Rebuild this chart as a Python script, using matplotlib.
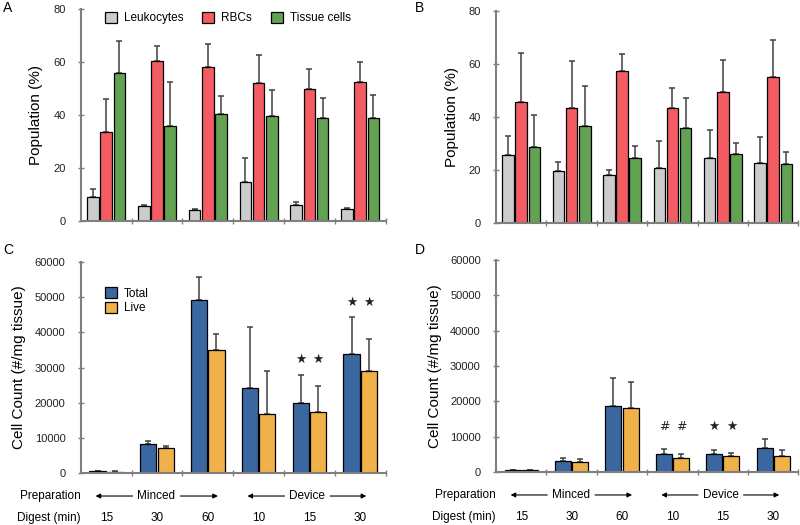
import numpy as np
import matplotlib
matplotlib.use('Agg')
import matplotlib.pyplot as plt
from matplotlib.patches import Patch

plt.rcParams['font.family'] = ['Liberation Sans', 'DejaVu Sans']

# population data (%), panels A and B
pop_labels = ['Leukocytes', 'RBCs', 'Tissue cells']
a_leuk = [9.2, 5.5, 4.2, 14.7, 6.2, 4.5]
a_leuk_err = [2.9, 0.7, 0.5, 8.9, 1.0, 0.3]
a_rbc = [33.5, 60.4, 58.2, 52.1, 49.7, 52.5]
a_rbc_err = [12.4, 5.8, 8.6, 10.4, 7.5, 7.4]
a_tis = [55.8, 36.0, 40.4, 39.5, 38.9, 38.9]
a_tis_err = [12.2, 16.5, 6.9, 9.8, 7.5, 8.8]

b_leuk = [25.7, 19.5, 18.2, 20.7, 24.7, 22.8]
b_leuk_err = [7.0, 3.6, 2.0, 10.1, 10.5, 9.6]
b_rbc = [45.8, 43.5, 57.3, 43.5, 49.3, 55.0]
b_rbc_err = [18.5, 17.8, 6.4, 7.3, 12.4, 14.0]
b_tis = [28.6, 36.8, 24.7, 35.9, 26.0, 22.2]
b_tis_err = [12.0, 15.0, 4.4, 11.4, 4.1, 4.7]

# cell counts (#/mg tissue), panels C and D
count_labels = ['Total', 'Live']
c_total = [450, 8200, 49150, 24200, 19850, 33800]
c_total_err = [200, 1000, 6600, 17300, 8150, 10500]
c_live = [400, 7000, 35000, 16700, 17400, 28900]
c_live_err = [100, 750, 4500, 12200, 7450, 9100]

d_total = [450, 3100, 18600, 5000, 5000, 6900]
d_total_err = [50, 950, 7900, 1400, 1100, 2350]
d_live = [450, 2900, 18100, 4050, 4500, 4500]
d_live_err = [50, 700, 7400, 1150, 950, 1600]

digest = ['15', '30', '60', '10', '15', '30']
c_marks = ['', '', '', '', '\u2605', '\u2605']
d_marks = ['', '', '', '#', '\u2605', '']

gray_c = '#cccccc'
red_c = '#f25c62'
green_c = '#62a252'
blue_c = '#3a67a0'
orange_c = '#f0b04a'
err_c = '#404040'
spine_c = '#7f7f7f'

fig = plt.figure(figsize=(8, 5.25), dpi=100)
axA = fig.add_axes([0.101, 0.579, 0.381, 0.404])
axB = fig.add_axes([0.620, 0.575, 0.378, 0.404])
axC = fig.add_axes([0.101, 0.099, 0.381, 0.402])
axD = fig.add_axes([0.620, 0.101, 0.378, 0.404])

x = np.arange(6)


def style(ax, ymax, step):
    for s in ['top', 'right']:
        ax.spines[s].set_visible(False)
    for s in ['left', 'bottom']:
        ax.spines[s].set_color(spine_c)
        ax.spines[s].set_linewidth(1.5)
    ax.set_xlim(-0.5, 5.5)
    ax.set_ylim(0, ymax)
    ax.set_yticks(np.arange(0, ymax + 1, step))
    ax.set_xticks(np.arange(0.5, 5.6, 1))
    ax.set_xticklabels([])
    ax.tick_params(axis='both', direction='inout', length=4, color=spine_c,
                   width=1, labelsize=8, labelcolor='#222222')
    ax.tick_params(axis='y', pad=9)


def bars(ax, series, errs, colors, offsets, width):
    for vals, err, col, off in zip(series, errs, colors, offsets):
        ax.errorbar(x + off, vals, yerr=[np.zeros(6), err], fmt='none',
                    ecolor=err_c, elinewidth=1.1, capsize=2.2, capthick=1.1,
                    zorder=1)
        ax.bar(x + off, vals, width, color=col, edgecolor='black',
               linewidth=0.9, zorder=2)


pop_cols = [gray_c, red_c, green_c]
bars(axA, [a_leuk, a_rbc, a_tis], [a_leuk_err, a_rbc_err, a_tis_err],
     pop_cols, [-0.26, 0, 0.26], 0.23)
bars(axB, [b_leuk, b_rbc, b_tis], [b_leuk_err, b_rbc_err, b_tis_err],
     pop_cols, [-0.26, 0, 0.26], 0.23)
for ax in [axA, axB]:
    style(ax, 80, 20)
    ax.set_ylabel('Population (%)', fontsize=11, labelpad=7)

cnt_cols = [blue_c, orange_c]
bars(axC, [c_total, c_live], [c_total_err, c_live_err], cnt_cols,
     [-0.17, 0.17], 0.32)
bars(axD, [d_total, d_live], [d_total_err, d_live_err], cnt_cols,
     [-0.17, 0.17], 0.32)
for ax in [axC, axD]:
    style(ax, 60000, 10000)
    ax.set_ylabel('Cell Count (#/mg tissue)', fontsize=11, labelpad=6)

# significance marks above the bars
for ax, marks, tot, tot_e, liv, liv_e in [
        (axC, c_marks, c_total, c_total_err, c_live, c_live_err),
        (axD, d_marks, d_total, d_total_err, d_live, d_live_err)]:
    for i, m in enumerate(marks):
        if not m:
            continue
        top = max(tot[i] + tot_e[i], liv[i] + liv_e[i])
        y = top + 4200 if ax is axC else 13000
        for off in [-0.17, 0.17]:
            ax.text(i + off, y, m, ha='center', va='center', fontsize=9,
                    family=['DejaVu Sans'], color='#222222')

# legends
axA.legend([Patch(facecolor=c, edgecolor='black', linewidth=0.9) for c in pop_cols],
           pop_labels, loc='upper left', bbox_to_anchor=(0.045, 1.035), ncol=3,
           frameon=False, fontsize=8.5, handlelength=1.0, handleheight=1.0,
           handletextpad=0.6, columnspacing=1.6)
axC.legend([Patch(facecolor=c, edgecolor='black', linewidth=0.9) for c in cnt_cols],
           count_labels, loc='upper left', bbox_to_anchor=(0.045, 0.93),
           frameon=False, fontsize=8.5, handlelength=1.0, handleheight=1.0,
           handletextpad=0.6, labelspacing=0.2)

# preparation / digest rows under C and D
for ax in [axC, axD]:
    h = ax.get_position().height * 525
    y1 = -23 / h
    y2 = -45 / h
    tr = ('data', 'axes fraction')
    ax.annotate('Preparation', xy=(-0.5, y1), xycoords=tr, ha='right',
                va='center', fontsize=8.5, annotation_clip=False)
    ax.annotate('Digest (min)', xy=(-0.5, y2), xycoords=tr, ha='right',
                va='center', fontsize=8.5, annotation_clip=False)
    for i, d in enumerate(digest):
        ax.annotate(d, xy=(i, y2), xycoords=tr, ha='center', va='center',
                    fontsize=8.5, annotation_clip=False)
    for label, cx, left, right in [('Minced', 0.99, -0.21, 2.2),
                                   ('Device', 3.96, 2.78, 5.12)]:
        for end, alpha in [(left, 1), (right, 0)]:
            ax.annotate(label, xy=(end, y1), xycoords=tr, xytext=(cx, y1),
                        textcoords=tr, ha='center', va='center', fontsize=8.5,
                        alpha=alpha, annotation_clip=False,
                        arrowprops=dict(arrowstyle='-|>', color='black', lw=0.8,
                                        mutation_scale=7, shrinkA=1.5, shrinkB=0,
                                        alpha=1))

# panel letters
for lab, px, py in [('A', 3, 8), ('B', 415, 8), ('C', 3, 250), ('D', 415, 250)]:
    fig.text(px / 800, 1 - py / 525, lab, fontsize=10, va='center', ha='left')

fig.savefig('out.png', dpi=100)
